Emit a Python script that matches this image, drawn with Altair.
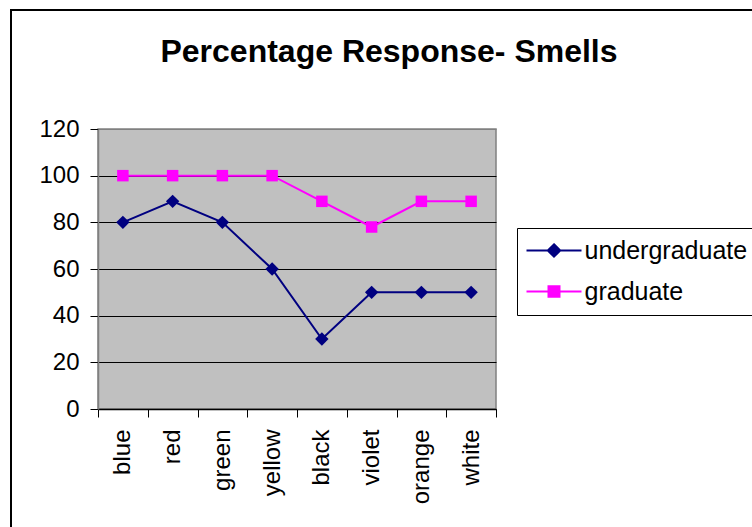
import altair as alt
import pandas as pd

# Smell colours along the x axis and the share of each group that responded
smells = ["blue", "red", "green", "yellow", "black", "violet", "orange", "white"]
undergraduate = [80, 89, 80, 60, 30, 50, 50, 50]
graduate = [100, 100, 100, 100, 89, 78, 89, 89]

series_names = ["undergraduate", "graduate"]
series_colors = ["#000080", "#FF00FF"]
y_ticks = [0, 20, 40, 60, 80, 100, 120]

FONT = "Liberation Sans"

rows = []
for s, u, g in zip(smells, undergraduate, graduate):
    rows.append({"smell": s, "series": "undergraduate", "pct": u})
    rows.append({"smell": s, "series": "graduate", "pct": g})
df = pd.DataFrame(rows)

W, H = 398, 280
PAD_L, PAD_T = 98, 129

x_enc = alt.X(
    "smell:N",
    sort=smells,
    bandPosition=0.5,
    scale=alt.Scale(type="band", domain=smells, paddingInner=0, paddingOuter=0),
    axis=alt.Axis(
        title=None,
        labelAngle=270,
        labelFont=FONT,
        labelFontSize=24,
        labelColor="black",
        labelPadding=12,
        tickBand="extent",
        tickColor="black",
        tickSize=8,
        domainColor="black",
        domainWidth=1.5,
        grid=False,
    ),
)
y_enc = alt.Y(
    "pct:Q",
    scale=alt.Scale(domain=[0, 120], nice=False),
    axis=alt.Axis(
        title=None,
        values=y_ticks,
        labelFont=FONT,
        labelFontSize=24,
        labelColor="black",
        labelPadding=11,
        tickColor="black",
        tickSize=8,
        domainColor="#808080",
        domainWidth=1.5,
        grid=True,
        gridColor={"condition": {"test": "datum.value == 120", "value": "#808080"}, "value": "black"},
        gridWidth=1,
    ),
)

base = alt.Chart(df)

# connecting lines, one per group
lines = alt.layer(*[
    base.transform_filter(alt.datum.series == name)
    .mark_line(color=col, strokeWidth=2)
    .encode(x=x_enc, y=y_enc)
    for name, col in zip(series_names, series_colors)
])

# markers: diamonds for undergraduates, squares for graduates
marker_shapes = ["diamond", "square"]
marker_sizes = [180, 132]
markers = alt.layer(*[
    base.transform_filter(alt.datum.series == name)
    .mark_point(filled=True, color=col, shape=shp, size=sz, opacity=1)
    .encode(x=x_enc, y=y_enc)
    for name, col, shp, sz in zip(series_names, series_colors, marker_shapes, marker_sizes)
])

# legend symbols: a line segment with the group's marker in the middle
legend_paths = [
    "M-2.75,0H2.75M0,-0.62L0.62,0L0,0.62L-0.62,0Z",
    "M-2.75,0H2.75M-0.55,-0.52H0.55V0.52H-0.55Z",
]
legend = alt.Legend(
    title=None,
    orient="none",
    legendX=419,
    legendY=99,
    labelFont=FONT,
    labelFontSize=25,
    labelColor="black",
    labelOffset=18,
    labelLimit=400,
    symbolSize=400,
    symbolOffset=14.5,
    symbolStrokeWidth=2,
    strokeColor="black",
    fillColor="white",
    padding=10,
    rowPadding=15,
)
legend_layer = (
    base.transform_filter("false")
    .mark_point(filled=True, opacity=1)
    .encode(
        x=x_enc,
        y=y_enc,
        fill=alt.Fill("series:N", scale=alt.Scale(domain=series_names, range=series_colors), legend=legend),
        stroke=alt.Stroke("series:N", scale=alt.Scale(domain=series_names, range=series_colors), legend=legend),
        shape=alt.Shape("series:N", scale=alt.Scale(domain=series_names, range=legend_paths), legend=legend),
    )
)

# outer chart border
frame = (
    alt.Chart(alt.Data(values=[{"k": 1}]))
    .mark_rect(fillOpacity=0, stroke="black", strokeWidth=2)
    .encode(
        x=alt.value(-87),
        x2=alt.value(W + 400),
        y=alt.value(-119),
        y2=alt.value(H + 300),
    )
)

chart = (
    alt.layer(frame, lines, markers, legend_layer)
    .properties(
        width=W,
        height=H,
        padding={"left": PAD_L, "top": PAD_T, "right": 752 - PAD_L - W, "bottom": 527 - PAD_T - H},
        autosize=alt.AutoSizeParams(type="none"),
        title=alt.TitleParams(
            "Percentage Response- Smells",
            font=FONT,
            fontSize=32,
            fontWeight="bold",
            color="black",
            anchor="middle",
            frame="group",
            dx=92,
            baseline="alphabetic",
            offset=-85,
        ),
        background="white",
    )
    .configure_view(fill="#C0C0C0", stroke="#808080", strokeWidth=1.5)
)

chart.save("out.html", embed_options={"renderer": "svg", "actions": False})
